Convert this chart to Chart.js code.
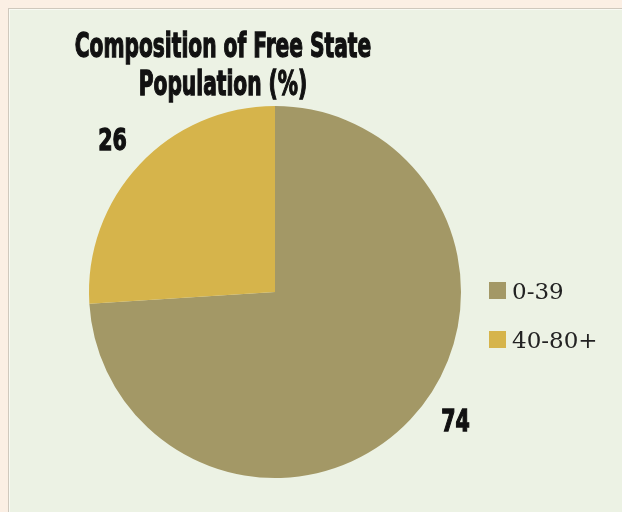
<!DOCTYPE html>
<html>
<head>
<meta charset="utf-8">
<script src="https://cdn.jsdelivr.net/npm/chart.js@4.4.0/dist/chart.umd.min.js"></script>
<style>
  html, body { margin: 0; padding: 0; }
  body { width: 622px; height: 512px; background: #fbefe4; position: relative; overflow: hidden; }
  .panel {
    position: absolute; left: 8px; top: 8px; width: 640px; height: 520px;
    background: #ecf2e4; border: 1px solid #cfc8bd;
    box-shadow: inset 1px 1px 0 #f8faf3;
  }
  #chart { position: absolute; left: 0; top: 0; }
</style>
</head>
<body>
<div class="panel"></div>
<canvas id="chart" width="622" height="512"></canvas>
<script>
const categories = ['0-39', '40-80+'];
const values = [74, 26];
const colors = ['#a39866', '#d6b44b'];
const titleLines = ['Composition of Free State', 'Population (%)'];

// nudges for the outside data labels (px), Excel "best fit" style
const labelShift = [[18, -25], [0, 0]];

const condensed = '"DejaVu Sans Condensed", "DejaVu Sans", sans-serif';

function heavyText(c, txt, x, y, sx) {
  c.save();
  c.translate(x, y);
  c.scale(sx, 1);
  c.lineWidth = 1.3;
  c.strokeStyle = '#111';
  c.strokeText(txt, 0, 0);
  c.fillText(txt, 0, 0);
  c.restore();
}

const extras = {
  id: 'extras',
  afterDraw(chart) {
    const c = chart.ctx;
    c.save();
    // title
    c.fillStyle = '#111';
    c.textAlign = 'center';
    c.textBaseline = 'alphabetic';
    c.font = 'bold 34px ' + condensed;
    heavyText(c, titleLines[0], 223, 57, 0.66);
    heavyText(c, titleLines[1], 223, 95, 0.66);

    // data labels outside the slices
    const arcs = chart.getDatasetMeta(0).data;
    c.font = 'bold 30px ' + condensed;
    arcs.forEach((a, i) => {
      const mid = (a.startAngle + a.endAngle) / 2;
      const r = a.outerRadius + 37;
      const x = a.x + Math.cos(mid) * r + labelShift[i][0];
      const y = a.y + Math.sin(mid) * r + labelShift[i][1];
      heavyText(c, String(values[i]), x, y + 11, 0.76);
    });

    // legend
    c.textAlign = 'left';
    c.textBaseline = 'middle';
    c.font = '23px "DejaVu Serif", "Liberation Serif", serif';
    categories.forEach((lab, i) => {
      const y = 291 + i * 49;
      c.fillStyle = colors[i];
      c.fillRect(489, y - 9, 17, 17);
      c.fillStyle = '#222';
      c.fillText(lab, 512, y + 2);
    });
    c.restore();
  }
};

new Chart(document.getElementById('chart'), {
  type: 'pie',
  data: {
    labels: categories,
    datasets: [{
      data: values,
      backgroundColor: colors,
      borderWidth: 0
    }]
  },
  options: {
    responsive: false,
    animation: false,
    layout: { padding: { left: 89, top: 106, right: 161, bottom: 34 } },
    plugins: {
      legend: { display: false },
      title: { display: false },
      tooltip: { enabled: false }
    }
  },
  plugins: [extras]
});
</script>
</body>
</html>
